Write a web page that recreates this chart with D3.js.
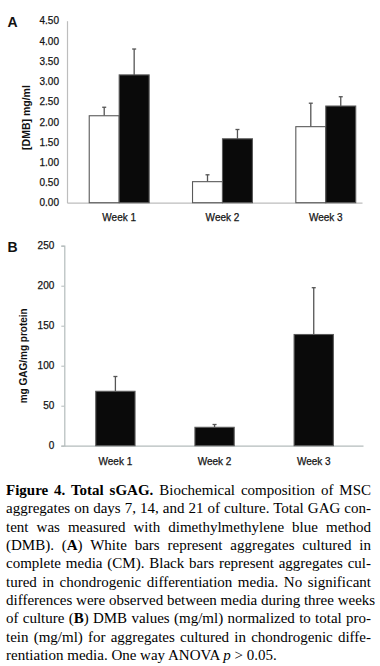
<!DOCTYPE html>
<html>
<head>
<meta charset="utf-8">
<script src="https://cdn.jsdelivr.net/npm/d3@7"></script>
<style>
  body { margin: 0; background: #fff; width: 380px; height: 666px; position: relative; overflow: hidden; }
  svg { position: absolute; left: 0; top: 0; }
  #caption { position: absolute; left: 6px; top: 481px; width: 365px;
    font-family: "Liberation Serif", "Times New Roman", serif; font-size: 15px; line-height: 18.33px; color: #000; }
  #caption div { text-align: justify; text-align-last: justify; white-space: nowrap; }
  #caption div.last { text-align-last: left; }
</style>
</head>
<body>
<div id="chart"></div>
<div id="caption"></div>
<script>
// data
const weeks = ["Week 1", "Week 2", "Week 3"];
const media = ["CM", "CDM"];
const cmMean = [2.15, 0.52, 1.88];
const cmErr = [0.21, 0.17, 0.58];
const cdmMean = [3.16, 1.58, 2.39];
const cdmErr = [0.64, 0.23, 0.23];
const ticksA = [0, 0.5, 1, 1.5, 2, 2.5, 3, 3.5, 4, 4.5];

const gagMean = [68, 23, 139];
const gagErr = [18.5, 3.5, 58.5];
const ticksB = [0, 50, 100, 150, 200, 250];

const captionLines = [
  "<b>Figure 4. Total sGAG.</b> Biochemical composition of MSC",
  "aggregates on days 7, 14, and 21 of culture. Total GAG con-",
  "tent was measured with dimethylmethylene blue method",
  "(DMB). (<b>A</b>) White bars represent aggregates cultured in",
  "complete media (CM). Black bars represent aggregates cul-",
  "tured in chondrogenic differentiation media. No significant",
  "differences were observed between media during three weeks",
  "of culture (<b>B</b>) DMB values (mg/ml) normalized to total pro-",
  "tein (mg/ml) for aggregates cultured in chondrogenic diffe-",
  "rentiation media. One way ANOVA <i>p</i> &gt; 0.05."
];

const font = "Liberation Sans, Arial, sans-serif";
const barStroke = "#5a5a5a";
const errColor = "#555";
const textColor = "#151515";

const svg = d3.select("#chart")
    .append("svg")
    .attr("width", 380)
    .attr("height", 475);

function styleText(sel, size) {
    sel.attr("font-family", font)
        .attr("font-size", size)
        .attr("fill", textColor)
        .attr("stroke", textColor)
        .attr("stroke-width", 0.25);
}

// ---------- panel A ----------
const dataA = weeks.map((w, i) => ({
    week: w,
    vals: [
        { key: "CM", mean: cmMean[i], err: cmErr[i] },
        { key: "CDM", mean: cdmMean[i], err: cdmErr[i] }
    ]
}));

const yA = d3.scaleLinear().domain([0, 4.5]).range([202.7, 20.7]);
const x0A = d3.scaleBand()
    .domain(weeks)
    .range([67, 362])
    .paddingInner(0.42)
    .paddingOuter(0.138)
    .align(0.78);
const x1A = d3.scaleBand().domain(media).range([0, x0A.bandwidth()]);

const gA = svg.append("g");

// y axis
const axA = gA.append("g")
    .attr("transform", "translate(67,0)")
    .call(d3.axisLeft(yA).tickValues(ticksA).tickFormat(d3.format(".2f")).tickSize(0).tickPadding(8));
axA.select(".domain").attr("stroke", "#bdbdbd").attr("stroke-width", 1.2);
styleText(axA.selectAll("text"), "10px");

// x axis
const axXA = gA.append("g")
    .attr("transform", "translate(0,202.7)")
    .call(d3.axisBottom(x0A).tickSize(0).tickPadding(11));
axXA.select(".domain").attr("stroke", "#bdbdbd").attr("stroke-width", 1.2);
styleText(axXA.selectAll("text"), "10px");

// bars
const groupsA = gA.selectAll("g.grp")
    .data(dataA)
    .join("g")
    .attr("class", "grp")
    .attr("transform", d => `translate(${x0A(d.week)},0)`);

groupsA.selectAll("line.err")
    .data(d => d.vals)
    .join("line")
    .attr("class", "err")
    .attr("x1", d => x1A(d.key) + x1A.bandwidth() / 2)
    .attr("x2", d => x1A(d.key) + x1A.bandwidth() / 2)
    .attr("y1", d => yA(d.mean))
    .attr("y2", d => yA(d.mean + d.err))
    .attr("stroke", errColor)
    .attr("stroke-width", 1.3);

groupsA.selectAll("line.cap")
    .data(d => d.vals)
    .join("line")
    .attr("class", "cap")
    .attr("x1", d => x1A(d.key) + x1A.bandwidth() / 2 - 2)
    .attr("x2", d => x1A(d.key) + x1A.bandwidth() / 2 + 2)
    .attr("y1", d => yA(d.mean + d.err))
    .attr("y2", d => yA(d.mean + d.err))
    .attr("stroke", errColor)
    .attr("stroke-width", 1.3);

groupsA.selectAll("rect")
    .data(d => d.vals)
    .join("rect")
    .attr("x", d => x1A(d.key))
    .attr("y", d => yA(d.mean))
    .attr("width", x1A.bandwidth())
    .attr("height", d => yA(0) - yA(d.mean))
    .attr("fill", d => d.key == "CM" ? "#fff" : "#0a0a0a")
    .attr("stroke", barStroke)
    .attr("stroke-width", 1.1);

gA.append("text")
    .attr("transform", "translate(29.5,117.5) rotate(-90)")
    .attr("text-anchor", "middle")
    .attr("font-family", font)
    .attr("font-weight", "bold")
    .attr("font-size", "10.5px")
    .attr("fill", "#111")
    .text("[DMB] mg/ml");

gA.append("text")
    .attr("x", 7.5)
    .attr("y", 26.8)
    .attr("font-family", font)
    .attr("font-weight", "bold")
    .attr("font-size", "14px")
    .attr("fill", "#111")
    .text("A");

// ---------- panel B ----------
const dataB = weeks.map((w, i) => ({ week: w, mean: gagMean[i], err: gagErr[i] }));

const yB = d3.scaleLinear().domain([0, 250]).range([445.7, 245.7]);
const xB = d3.scaleBand()
    .domain(weeks)
    .range([64.3, 363])
    .paddingInner(0.604)
    .paddingOuter(0.308)
    .align(0.515);

const gB = svg.append("g");

const axB = gB.append("g")
    .attr("transform", "translate(64.3,0)")
    .call(d3.axisLeft(yB).tickValues(ticksB).tickSize(3).tickPadding(7));
axB.select(".domain").attr("stroke", "#b4bcbc").attr("stroke-width", 1.2);
axB.selectAll(".tick line").attr("stroke", "#b4bcbc");
styleText(axB.selectAll("text"), "10px");

const axXB = gB.append("g")
    .attr("transform", "translate(0,445.7)")
    .call(d3.axisBottom(xB).tickSize(0).tickPadding(12));
axXB.select(".domain").attr("stroke", "#b4bcbc").attr("stroke-width", 1.2);
styleText(axXB.selectAll("text"), "10px");

gB.selectAll("line.err")
    .data(dataB)
    .join("line")
    .attr("class", "err")
    .attr("x1", d => xB(d.week) + xB.bandwidth() / 2)
    .attr("x2", d => xB(d.week) + xB.bandwidth() / 2)
    .attr("y1", d => yB(d.mean))
    .attr("y2", d => yB(d.mean + d.err))
    .attr("stroke", errColor)
    .attr("stroke-width", 1.3);

gB.selectAll("line.cap")
    .data(dataB)
    .join("line")
    .attr("class", "cap")
    .attr("x1", d => xB(d.week) + xB.bandwidth() / 2 - 2)
    .attr("x2", d => xB(d.week) + xB.bandwidth() / 2 + 2)
    .attr("y1", d => yB(d.mean + d.err))
    .attr("y2", d => yB(d.mean + d.err))
    .attr("stroke", errColor)
    .attr("stroke-width", 1.3);

gB.selectAll("rect")
    .data(dataB)
    .join("rect")
    .attr("x", d => xB(d.week))
    .attr("y", d => yB(d.mean))
    .attr("width", xB.bandwidth())
    .attr("height", d => yB(0) - yB(d.mean))
    .attr("fill", "#0a0a0a")
    .attr("stroke", barStroke)
    .attr("stroke-width", 1.1);

gB.append("text")
    .attr("transform", "translate(27,355.8) rotate(-90)")
    .attr("text-anchor", "middle")
    .attr("font-family", font)
    .attr("font-weight", "bold")
    .attr("font-size", "10px")
    .attr("fill", "#111")
    .text("mg GAG/mg protein");

gB.append("text")
    .attr("x", 7.5)
    .attr("y", 251.8)
    .attr("font-family", font)
    .attr("font-weight", "bold")
    .attr("font-size", "14px")
    .attr("fill", "#111")
    .text("B");

// ---------- caption ----------
d3.select("#caption")
    .selectAll("div")
    .data(captionLines)
    .join("div")
    .attr("class", (d, i) => i == captionLines.length - 1 ? "last" : null)
    .html(d => d);
</script>
</body>
</html>
